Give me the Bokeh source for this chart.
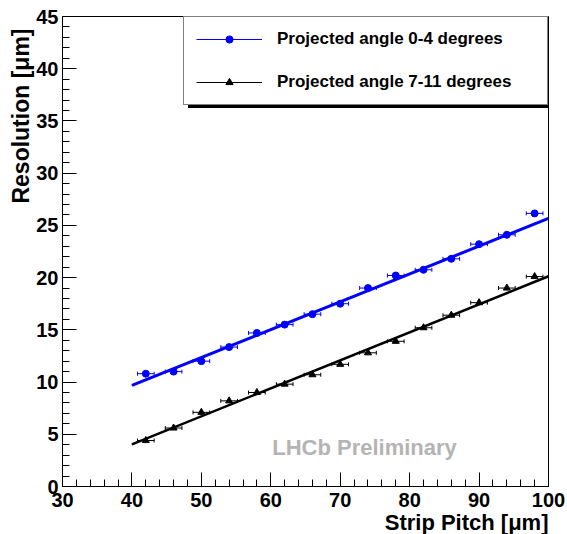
from bokeh.plotting import figure
from bokeh.models import (ColumnDataSource, Whisker, TeeHead, Label, Legend, LegendItem,
                          SingleIntervalTicker, Range1d, Title)
from bokeh.embed import file_html
from bokeh.resources import INLINE

# Strip pitch (um) and measured resolution (um) for two projected-angle bins
pitch = [42, 46, 50, 54, 58, 62, 66, 70, 74, 78, 82, 86, 90, 94, 98]
pitch_err = [1.2] * len(pitch)
res_0_4 = [10.8, 11.0, 12.0, 13.35, 14.7, 15.5, 16.5, 17.5, 19.0, 20.2, 20.75, 21.8, 23.2, 24.1, 26.15]
res_7_11 = [4.4, 5.6, 7.1, 8.2, 9.0, 9.8, 10.7, 11.7, 12.8, 13.9, 15.2, 16.4, 17.6, 19.0, 20.1]

# Linear fits, evaluated at the ends of the fit range
fit_x = [40, 100]
fit_0_4 = [9.69, 25.68]
fit_7_11 = [4.04, 20.13]

legend_labels = ["Projected angle 0-4 degrees", "Projected angle 7-11 degrees"]

FONT = "Liberation Sans"

p = figure(width=567, height=534, output_backend="svg", toolbar_location=None,
           x_range=Range1d(30, 100), y_range=Range1d(0, 45),
           min_border_left=62, min_border_right=19, min_border_top=16, min_border_bottom=48)
p.background_fill_color = "white"
p.border_fill_color = "white"
p.outline_line_color = "black"
p.outline_line_width = 1
p.xgrid.visible = False
p.ygrid.visible = False

p.xaxis.ticker = SingleIntervalTicker(interval=10, num_minor_ticks=5)
p.yaxis.ticker = SingleIntervalTicker(interval=5, num_minor_ticks=5)
for ax in (p.xaxis[0], p.yaxis[0]):
    ax.major_tick_in = 14
    ax.major_tick_out = 0
    ax.minor_tick_in = 7
    ax.minor_tick_out = 0
    ax.axis_line_color = "black"
    ax.major_tick_line_color = "black"
    ax.minor_tick_line_color = "black"
    ax.major_label_text_font = FONT
    ax.major_label_text_font_style = "bold"
    ax.major_label_text_font_size = "20px"
    ax.major_label_text_color = "black"
p.xaxis.major_label_standoff = 6
p.yaxis.major_label_standoff = 4

# axis titles, pushed to the far end of each axis
p.add_layout(Title(text="Strip Pitch [μm]", align="right", text_font=FONT,
                   text_font_style="bold", text_font_size="22px", text_color="black",
                   standoff=-3), "below")
p.add_layout(Title(text="Resolution [μm]", align="right", text_font=FONT,
                   text_font_style="bold", text_font_size="23px", text_color="black",
                   standoff=0, offset=12), "left")

src_a = ColumnDataSource(dict(x=pitch, y=res_0_4,
                              lo=[x - e for x, e in zip(pitch, pitch_err)],
                              hi=[x + e for x, e in zip(pitch, pitch_err)]))
src_b = ColumnDataSource(dict(x=pitch, y=res_7_11,
                              lo=[x - e for x, e in zip(pitch, pitch_err)],
                              hi=[x + e for x, e in zip(pitch, pitch_err)]))

# thin copies of the fits (hidden under the thick ones) that give the legend its line
thin_a = p.line(fit_x, fit_0_4, line_color="blue", line_width=1)
thin_b = p.line(fit_x, fit_7_11, line_color="black", line_width=1)

# fit lines
p.line(fit_x, fit_0_4, line_color="blue", line_width=3)
p.line(fit_x, fit_7_11, line_color="black", line_width=2.5)

# horizontal error bars
for src, col in ((src_a, "blue"), (src_b, "black")):
    p.add_layout(Whisker(source=src, base="y", lower="lo", upper="hi", dimension="width",
                         line_color=col, line_width=1,
                         lower_head=TeeHead(size=4, line_color=col, line_width=1),
                         upper_head=TeeHead(size=4, line_color=col, line_width=1)))

pts_a = p.scatter("x", "y", source=src_a, marker="circle", size=7,
                  fill_color="blue", line_color="blue")
pts_b = p.scatter("x", "y", source=src_b, marker="triangle", size=7,
                  fill_color="black", line_color="black")

p.add_layout(Label(x=302, y=39, x_units="screen", y_units="screen",
                   text="LHCb Preliminary", text_align="center", text_baseline="middle",
                   text_font=FONT, text_font_style="bold", text_font_size="22px",
                   text_color="#b4b4b4"))

# legend drop shadow: a solid black box offset below and right of the legend
shadow = Legend(items=[LegendItem(label=" ", renderers=[thin_b])],
                location=(126, 378), margin=0, padding=0, spacing=0,
                glyph_width=1, glyph_height=88, label_height=88, label_width=362,
                label_standoff=0, border_line_alpha=0,
                background_fill_color="black", background_fill_alpha=1,
                label_text_font_size="10px", label_text_color="black")
p.add_layout(shadow, "center")

legend = Legend(items=[LegendItem(label=legend_labels[0], renderers=[thin_a, pts_a]),
                       LegendItem(label=legend_labels[1], renderers=[thin_b, pts_b])],
                location="top_right", margin=0, padding=12, spacing=23,
                glyph_width=66, glyph_height=18, label_height=18, label_width=258,
                label_standoff=15, border_line_color="black", border_line_width=1,
                background_fill_color="white", background_fill_alpha=1,
                label_text_font=FONT, label_text_font_style="bold",
                label_text_font_size="17px", label_text_color="black")
p.add_layout(legend, "center")

open("out.html", "w").write(file_html(p, INLINE))
